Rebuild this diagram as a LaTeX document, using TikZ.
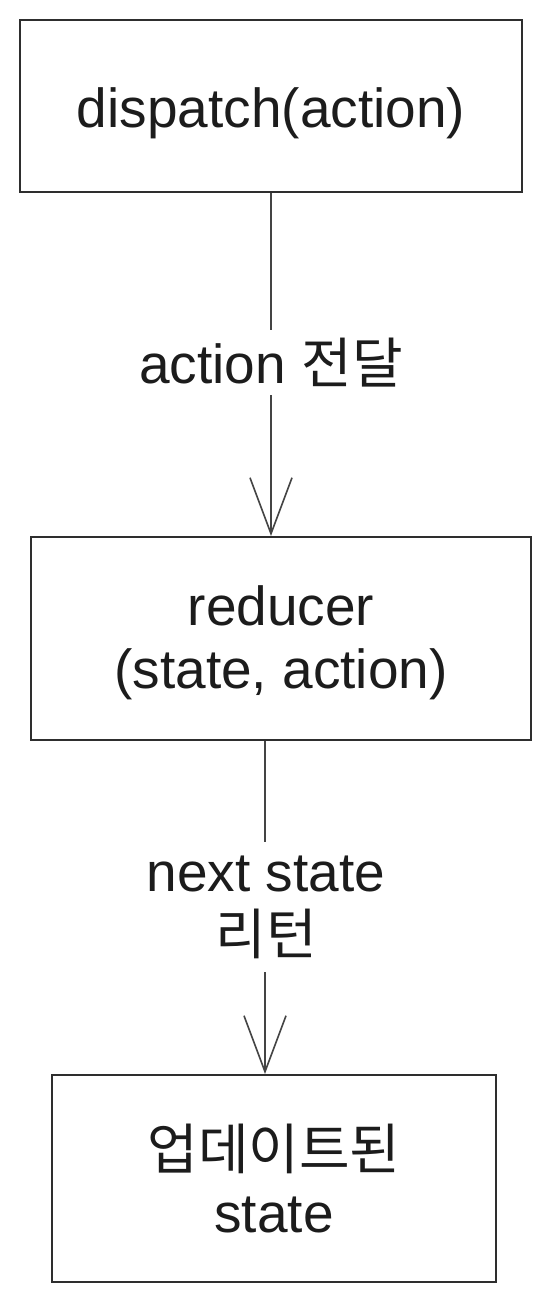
\documentclass[tikz,border=0pt]{standalone}
\usepackage{fontspec}
\setmainfont{Liberation Sans}
\newfontfamily\kr{Noto Sans CJK KR}
\usetikzlibrary{arrows.meta}
\definecolor{ink}{HTML}{1C1C1C}
\definecolor{boxline}{HTML}{2E2E2E}
\definecolor{arrowline}{HTML}{444444}
\tikzset{
  flowbox/.style={draw=boxline, line width=2pt, inner sep=0pt, align=center,
    text=ink, font=\fontsize{55}{63}\selectfont},
  flowlabel/.style={inner sep=0pt, align=center, text=ink,
    font=\fontsize{55}{63}\selectfont},
  flowline/.style={draw=arrowline, line width=1.6pt},
  flowarrow/.style={flowline, -{Straight Barb[length=56pt,width=42pt,line width=1.6pt]}}
}
\begin{document}
\begin{tikzpicture}[x=1pt,y=-1pt]
\useasboundingbox[fill=white] (0,0) rectangle (551,1302);

\node[flowbox, minimum width=502pt, minimum height=172pt, text height=54pt, text depth=12pt] (b1) at (271,106) {dispatch(action)};
\node[flowbox, minimum width=500pt, minimum height=203pt] (b2) at (281,638.5) {\rule{0pt}{49pt}reducer\\(state, action)};
\node[flowbox, minimum width=444pt, minimum height=207pt] (b3) at (274,1178.5) {{\kr 업데이트된}\\state};

\node[flowlabel, text height=41pt, text depth=0pt, minimum height=65pt] (l1) at (271,362.5) {action {\kr 전달}};
\node[flowlabel, minimum height=130pt] (l2) at (266,907) {next state\\{\kr 리턴}};

\draw[flowline] (b1.south -| l1) -- (l1.north);
\draw[flowarrow] (l1.south) -- (l1.south |- b2.north);
\draw[flowline] (b2.south -| 265,0) -- (l2.north -| 265,0);
\draw[flowarrow] (l2.south -| 265,0) -- (b3.north -| 265,0);
\end{tikzpicture}
\end{document}
